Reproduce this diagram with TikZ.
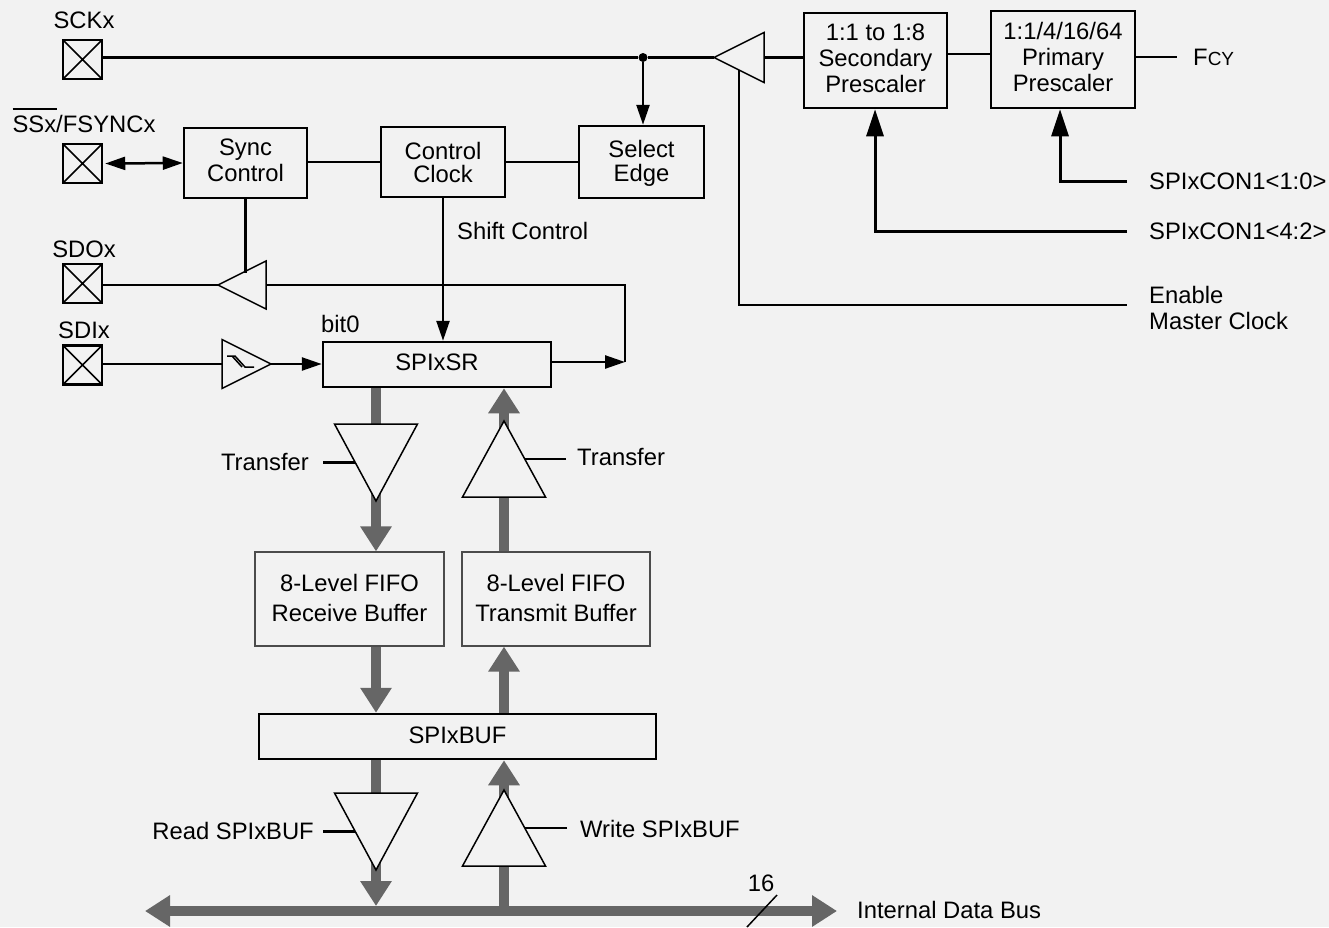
\documentclass[tikz,border=0pt]{standalone}
\usepackage{fontspec}
\setmainfont{Liberation Sans}
\usetikzlibrary{arrows.meta,shapes.geometric,backgrounds}
\definecolor{bggray}{HTML}{F2F2F2}
\definecolor{busgray}{HTML}{666666}
\tikzset{
  lab/.style={inner sep=0pt,text height=17pt,text depth=0pt},
  blk/.style={draw,line width=2.5pt,inner sep=0pt,align=center,font=\fontsize{23.8}{26}\selectfont},
  fifo/.style={draw=black!70,line width=1.2pt,inner sep=0pt,text depth=2pt,align=center,font=\fontsize{23.8}{29.5}\selectfont},
  pin/.style={draw,line width=2.5pt,minimum size=39pt,inner sep=0pt,
    path picture={\draw[line width=1.5pt] (path picture bounding box.north west) -- (path picture bounding box.south east)
      (path picture bounding box.north east) -- (path picture bounding box.south west);}},
  tribuf/.style={draw,fill=bggray,line width=1.5pt,shape=isosceles triangle,isosceles triangle stretches,inner sep=0pt,outer sep=0pt,anchor=apex},
  wire/.style={line width=2.5pt},
  tip/.style={-{Triangle[length=20pt,width=13pt]}},
  bigtip/.style={line width=3pt,-{Triangle[length=27pt,width=17pt]}},
  bus/.style={line width=10pt,draw=busgray},
  bustip/.style={-{Triangle[length=25pt,width=30pt,fill=busgray]}}
}
\begin{document}
\begin{tikzpicture}[x=1pt,y=-1pt,font=\fontsize{23.8}{26}\selectfont]
    \useasboundingbox (0,0) rectangle (1329,927);
    % pins
    \node[pin] (sckpin) at (82.5,59.5) {};
    \node[pin] (sspin) at (82.5,163.5) {};
    \node[pin] (sdopin) at (82.5,283.5) {};
    \node[pin] (sdipin) at (82.5,365) {};
    \node[lab] (scklab) at (84,20) {SCKx};
    \node[lab] (sslab) at (84,124) {\rlap{\rule[23pt]{44pt}{1.5pt}}SSx/FSYNCx};
    \node[lab] (sdolab) at (84,249) {SDOx};
    \node[lab] (sdilab) at (84,330) {SDIx};
    % clock blocks
    \node[blk,text depth=5pt,minimum width=143pt,minimum height=95pt] (secpre) at (875.5,60.5) {1:1 to 1:8\\Secondary\\Prescaler};
    \node[blk,text depth=5pt,minimum width=144pt,minimum height=97pt] (primpre) at (1063,59.5) {1:1/4/16/64\\Primary\\Prescaler};
    \node[blk,text depth=3pt,minimum width=125pt,minimum height=72pt] (seledge) at (641.5,162) {Select\\[-2pt]Edge};
    \node[blk,minimum width=124pt,minimum height=70pt] (ctlclk) at (443,162) {Control\\[-3pt]Clock};
    \node[blk,text depth=5pt,minimum width=123pt,minimum height=70pt] (syncctl) at (245.5,163) {Sync\\Control};
    \node[blk,text depth=4pt,minimum width=228pt,minimum height=45pt] (spisr) at (437,364.5) {SPIxSR};
    \node[blk,text depth=2pt,minimum width=397pt,minimum height=45pt] (spibuf) at (457.5,736.5) {SPIxBUF};
    \node[fifo,minimum width=189pt,minimum height=94pt] (rxfifo) at (349.5,599) {8-Level FIFO\\Receive Buffer};
    \node[fifo,minimum width=188pt,minimum height=94pt] (txfifo) at (556,599) {8-Level FIFO\\Transmit Buffer};
    % small buffers
    \node[tribuf,shape border rotate=180,minimum width=50pt,minimum height=50pt] (clkbuf) at (714,57.5) {};
    \node[tribuf,shape border rotate=180,minimum width=48pt,minimum height=48pt] (sdobuf) at (218,285) {};
    \node[tribuf,minimum width=49pt,minimum height=49pt] (sdibuf) at (271,364) {};
    \draw[line width=1.5pt] (227,356) -- (235,356) -- (245,367) -- (254,367)
      (232,356) -- (242,367);
    % transfer buffers
    \node[tribuf,shape border rotate=-90,minimum width=83pt,minimum height=77pt] (rxbuf) at (376,501) {};
    \node[tribuf,shape border rotate=90,minimum width=83pt,minimum height=76pt] (txbuf) at (504,421) {};
    \node[tribuf,shape border rotate=-90,minimum width=83pt,minimum height=77pt] (rdbuf) at (376,870) {};
    \node[tribuf,shape border rotate=90,minimum width=83pt,minimum height=76pt] (wrbuf) at (504,790) {};
    % labels
    \node[lab,anchor=west] (fcylab) at (1193,57) {F{\fontsize{19}{20}\selectfont CY}};
    \node[lab,anchor=west] (con10) at (1149,181) {SPIxCON1<1:0>};
    \node[lab,anchor=west] (con42) at (1149,231) {SPIxCON1<4:2>};
    \node[lab,anchor=west,align=left] (enlab) at (1149,321) {Enable\\Master Clock};
    \node[lab,anchor=west] (shiftlab) at (457,231) {Shift Control};
    \node[lab,anchor=west] (bitlab) at (321,324) {bit0};
    \node[lab,anchor=east] (xferl) at (309,461.5) {Transfer};
    \node[lab,anchor=west] (xferr) at (577,457) {Transfer};
    \node[lab,anchor=east] (rdlab) at (314,831) {Read SPIxBUF};
    \node[lab,anchor=west] (wrlab) at (580,829) {Write SPIxBUF};
    \node[lab] (sixteen) at (761,883) {16};
    \node[lab,anchor=west] (buslab) at (857,910) {Internal Data Bus};
    % clock path
    \node[circle,fill,inner sep=0pt,minimum size=9pt] (clkdot) at (643,57.5) {};
    \draw[wire] (sckpin.east |- clkdot) -- (clkdot) -- (clkbuf.apex);
    \draw[wire] (clkbuf.lower side) -- (clkbuf.lower side -| secpre.west);
    \draw[wire] ([yshift=6.5pt]secpre.east) -- ([yshift=5.5pt]primpre.west);
    \draw[wire] (primpre.east |- fcylab) -- ([xshift=-16pt]fcylab.west);
    \draw[wire,tip] (clkdot) -- (clkdot |- seledge.north);
    \draw[wire,{Triangle[length=20pt,width=13pt]}-{Triangle[length=20pt,width=13pt]}] ([xshift=2pt]sspin.east) -- (syncctl.west);
    \draw[wire] (syncctl.east |- ctlclk) -- (ctlclk.west);
    \draw[wire] (ctlclk.east) -- (seledge.west);
    \draw[wire,tip] (ctlclk.south) -- (ctlclk.south |- spisr.north);
    \draw[wire] (syncctl.south) -- (syncctl.south |- sdobuf.right side);
    % serial data
    \coordinate (fbturn) at (625,362);
    \draw[wire] (sdopin.east |- sdobuf.apex) -- (sdobuf.apex);
    \draw[wire] (sdobuf.lower side) -| (fbturn);
    \draw[wire,tip] (spisr.east |- fbturn) -- (fbturn);
    \draw[wire] (sdipin.east |- sdibuf.apex) -- (sdibuf.lower side);
    \draw[wire,tip] (sdibuf.apex) -- (sdibuf.apex -| spisr.west);
    % prescaler selects
    \draw[bigtip] ([xshift=-22pt]con10.west) -| (primpre.south -| 1060,0);
    \draw[bigtip] ([xshift=-22pt]con42.west) -| (secpre.south -| 875,0);
    \coordinate (enturn) at (1127,305);
    \draw[wire] (clkbuf.left side) |- (enturn);
    % buffer enables
    \draw[wire] ([xshift=14pt]xferl.east |- rxbuf.right side) -- (rxbuf.right side);
    \draw[wire] ([xshift=-11pt]xferr.west |- txbuf.right side) -- (txbuf.right side);
    \draw[wire] ([xshift=9pt]rdlab.east |- rdbuf.right side) -- (rdbuf.right side);
    \draw[wire] ([xshift=-13pt]wrlab.west |- wrbuf.right side) -- (wrbuf.right side);
    % wide data paths, behind the buffers
    \begin{scope}[on background layer]
    \fill[bggray] (0,0) rectangle (1329,927);
    \draw[bus] (spisr.south -| rxbuf.apex) -- (rxbuf.lower side);
    \draw[bus,bustip] ([yshift=8pt]rxbuf.apex) -- (rxbuf.apex |- rxfifo.north);
    \draw[bus] (txfifo.north -| txbuf.apex) -- (txbuf.lower side);
    \draw[bus,bustip] ([yshift=-8pt]txbuf.apex) -- (txbuf.apex |- spisr.south);
    \draw[bus,bustip] (rxfifo.south -| rxbuf.apex) -- (spibuf.north -| rxbuf.apex);
    \draw[bus,bustip] (spibuf.north -| txbuf.apex) -- (txfifo.south -| txbuf.apex);
    \draw[bus] (spibuf.south -| rdbuf.apex) -- (rdbuf.lower side);
    \coordinate (busl) at (145,911);
    \coordinate (busr) at (837,911);
    \draw[bus,bustip] ([yshift=8pt]rdbuf.apex) -- (rdbuf.apex |- 0,906);
    \draw[bus,bustip] ([yshift=-8pt]wrbuf.apex) -- (wrbuf.apex |- spibuf.south);
    \draw[bus] (wrbuf.lower side) -- (wrbuf.lower side |- busl);
    \draw[bus,{Triangle[length=25pt,width=30pt,fill=busgray]}-{Triangle[length=25pt,width=30pt,fill=busgray]}] (busl) -- (busr);
    \end{scope}
    \coordinate (slasha) at (777,895);
    \coordinate (slashb) at (747,927);
    \draw[line width=1.5pt] (slasha) -- (slashb);
  \end{tikzpicture}
\end{document}
